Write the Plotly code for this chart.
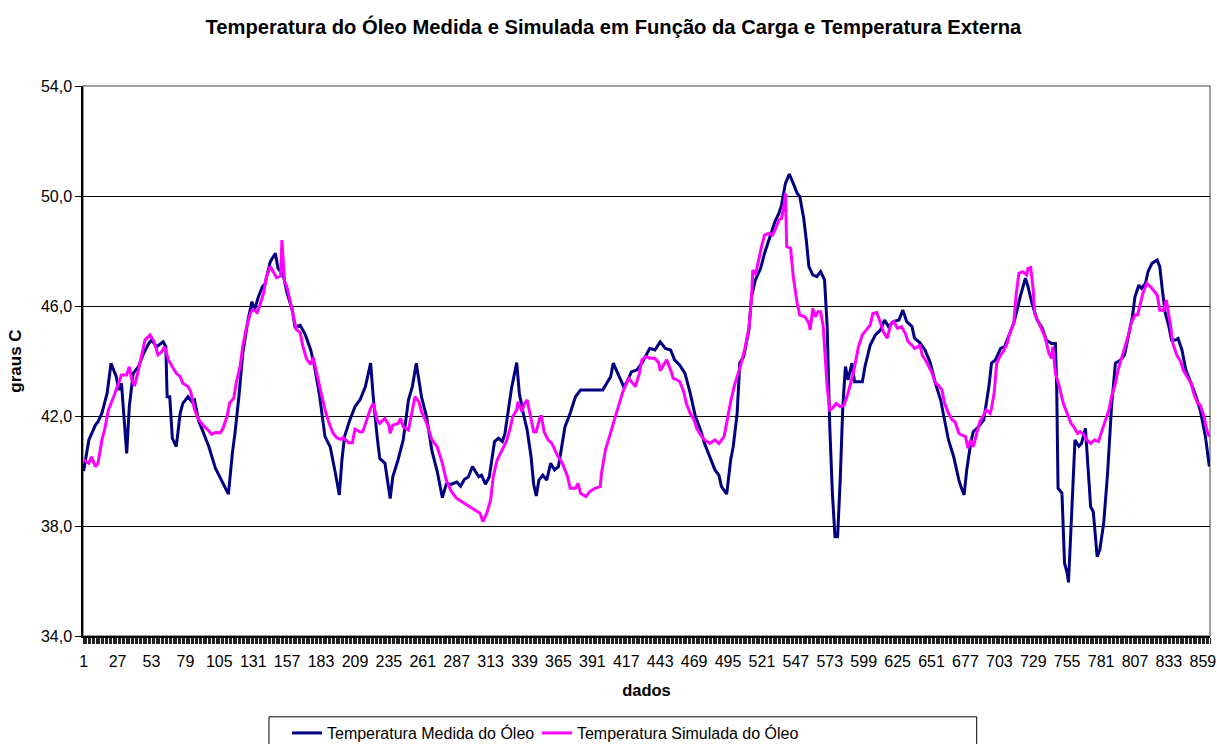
import plotly.graph_objects as go

# --- data (index "dados", temperature in °C) ---
medida_x = [1, 5, 10, 12, 15, 19, 22, 26, 28, 30, 34, 36, 39, 43, 47, 51, 53, 57, 62, 64,
            65, 67, 69, 72, 75, 77, 81, 84, 86, 89, 93, 97, 102, 107, 112, 115, 117, 120, 123, 127,
            130, 132, 135, 138, 140, 144, 148, 150, 154, 157, 161, 163, 167, 171, 175, 178, 182, 186, 190, 194,
            197, 199, 201, 205, 209, 213, 217, 221, 223, 226, 228, 232, 236, 238, 242, 246, 250, 253, 256, 260,
            264, 268, 272, 274, 276, 279, 283, 287, 290, 293, 296, 299, 302, 304, 306, 309, 312, 315, 316, 319,
            322, 324, 327, 329, 333, 335, 338, 341, 344, 346, 348, 350, 353, 356, 359, 362, 365, 368, 370, 374,
            378, 382, 387, 394, 399, 402, 405, 407, 410, 412, 415, 417, 421, 425, 429, 433, 435, 439, 443, 447,
            451, 454, 458, 462, 466, 470, 474, 477, 481, 485, 488, 490, 494, 497, 499, 502, 504, 507, 511, 513,
            516, 520, 523, 527, 531, 534, 536, 539, 542, 545, 548, 550, 553, 555, 557, 560, 563, 566, 568, 569,
            571, 573, 575, 577, 579, 581, 583, 585, 587, 590, 592, 598, 600, 604, 608, 612, 615, 618, 622, 626,
            629, 632, 636, 638, 642, 646, 650, 654, 658, 661, 664, 668, 672, 674, 676, 678, 681, 683, 687, 691,
            695, 697, 700, 704, 707, 710, 714, 716, 719, 723, 725, 728, 732, 736, 739, 743, 746, 747, 748, 751,
            753, 755, 756, 758, 761, 764, 766, 769, 771, 773, 775, 778, 780, 783, 786, 789, 792, 796, 799, 802,
            805, 807, 810, 812, 815, 817, 820, 824, 826, 828, 830, 833, 835, 838, 840, 843, 846, 849, 853, 857,
            861, 864]
medida_y = [40.0, 41.13, 41.67, 41.79, 42.1, 42.83, 43.92, 43.43, 42.95, 43.19, 40.64, 42.34, 43.55, 43.79, 44.28, 44.64, 44.76, 44.52, 44.7, 44.52,
            42.7, 42.7, 41.19, 40.89, 42.1, 42.46, 42.7, 42.52, 42.58, 41.85, 41.37, 40.88, 40.1, 39.61, 39.16, 40.64, 41.37, 42.7, 44.28, 45.49,
            46.16, 45.85, 46.34, 46.7, 46.8, 47.6, 47.92, 47.37, 47.13, 46.46, 45.85, 45.24, 45.3, 44.95, 44.41, 43.8, 42.7, 41.25, 40.88, 39.92,
            39.13, 40.4, 41.25, 41.85, 42.34, 42.6, 43.07, 43.92, 42.7, 41.25, 40.46, 40.28, 39.0, 39.79, 40.4, 41.13, 42.58, 43.07, 43.92, 42.7,
            41.94, 40.73, 40.0, 39.52, 39.03, 39.52, 39.52, 39.6, 39.45, 39.7, 39.79, 40.16, 39.92, 39.79, 39.85, 39.52, 39.79, 40.64, 41.07, 41.19,
            41.07, 41.37, 42.34, 43.0, 43.94, 42.83, 42.1, 41.49, 40.52, 39.52, 39.09, 39.67, 39.85, 39.67, 40.28, 40.04, 40.16, 41.0, 41.61, 42.1,
            42.7, 42.95, 42.95, 42.97, 42.95, 43.19, 43.43, 43.92, 43.61, 43.43, 43.07, 43.19, 43.61, 43.67, 43.92, 44.28, 44.46, 44.4, 44.7, 44.46,
            44.4, 44.04, 43.85, 43.55, 42.83, 41.98, 41.49, 41.0, 40.52, 40.04, 39.85, 39.43, 39.16, 40.4, 40.89, 42.1, 43.92, 44.16, 45.13, 46.34,
            46.95, 47.37, 47.92, 48.52, 49.07, 49.37, 49.67, 50.46, 50.8, 50.46, 50.1, 49.98, 49.19, 48.4, 47.43, 47.13, 47.07, 47.25, 47.07, 46.95,
            45.25, 41.61, 39.19, 37.61, 37.61, 39.67, 42.34, 43.8, 43.31, 43.92, 43.25, 43.25, 43.8, 44.58, 44.95, 45.13, 45.49, 45.25, 45.43, 45.49,
            45.85, 45.43, 45.25, 44.83, 44.67, 44.4, 43.95, 43.19, 42.58, 41.85, 41.13, 40.52, 39.67, 39.37, 39.13, 40.04, 41.0, 41.43, 41.61, 41.85,
            43.07, 43.92, 44.04, 44.46, 44.52, 44.88, 45.37, 45.73, 46.34, 47.01, 46.7, 46.1, 45.49, 45.19, 44.76, 44.64, 44.64, 42.95, 39.37, 39.2,
            36.64, 36.3, 35.95, 37.98, 41.13, 40.9, 41.0, 41.55, 39.92, 38.7, 38.52, 36.88, 37.13, 38.1, 39.92, 42.34, 43.92, 44.04, 44.22, 44.88,
            45.61, 46.34, 46.76, 46.64, 46.82, 47.25, 47.55, 47.67, 47.43, 46.58, 45.79, 45.25, 44.76, 44.76, 44.82, 44.4, 43.67, 43.31, 42.83, 42.22,
            41.25, 40.16]

simulada_x = [1, 5, 7, 10, 12, 15, 17, 20, 24, 28, 30, 34, 36, 38, 40, 43, 46, 48, 52, 55,
              58, 61, 63, 66, 69, 72, 75, 77, 81, 83, 86, 89, 93, 97, 99, 102, 106, 108, 111, 113,
              116, 118, 121, 123, 126, 129, 131, 134, 136, 139, 141, 144, 146, 149, 152, 153, 155, 157, 159, 162,
              164, 167, 169, 172, 175, 177, 180, 183, 186, 189, 192, 195, 198, 200, 204, 207, 209, 213, 215, 218,
              221, 223, 226, 228, 232, 235, 236, 238, 242, 244, 246, 250, 253, 255, 258, 260, 264, 268, 272, 276,
              279, 283, 287, 291, 295, 297, 300, 302, 305, 307, 310, 313, 315, 318, 320, 323, 325, 328, 330, 333,
              334, 337, 339, 341, 343, 346, 348, 351, 352, 354, 357, 360, 364, 368, 372, 374, 378, 380, 382, 386,
              389, 393, 397, 398, 401, 404, 406, 409, 411, 414, 416, 419, 421, 424, 427, 429, 432, 435, 439, 442,
              443, 445, 448, 451, 453, 456, 458, 461, 463, 466, 469, 471, 474, 477, 481, 485, 488, 492, 494, 497,
              500, 504, 508, 511, 513, 514, 516, 518, 521, 523, 526, 529, 531, 534, 536, 538, 539, 540, 543, 545,
              546, 548, 550, 554, 557, 558, 560, 562, 564, 566, 568, 569, 571, 573, 575, 578, 581, 584, 587, 591,
              595, 598, 601, 604, 606, 609, 612, 614, 617, 620, 622, 625, 628, 631, 633, 636, 638, 641, 642, 644,
              647, 649, 651, 654, 656, 659, 661, 664, 667, 669, 672, 674, 677, 679, 681, 683, 686, 688, 691, 693,
              696, 697, 699, 701, 704, 706, 709, 711, 714, 716, 718, 721, 724, 725, 727, 729, 730, 733, 736, 738,
              741, 743, 744, 746, 749, 752, 755, 758, 760, 763, 765, 768, 770, 773, 776, 779, 781, 784, 787, 789,
              792, 794, 797, 799, 802, 804, 807, 809, 811, 813, 816, 819, 821, 824, 826, 829, 831, 834, 836, 839,
              842, 844, 847, 850, 852, 855, 857, 860, 862, 864]
simulada_y = [40.4, 40.28, 40.52, 40.16, 40.28, 41.13, 41.49, 42.22, 42.7, 43.19, 43.49, 43.49, 43.79, 43.31, 43.09, 43.67, 44.28, 44.76, 44.95, 44.7,
              44.22, 44.34, 44.52, 44.04, 43.79, 43.55, 43.43, 43.19, 43.07, 42.9, 42.24, 41.88, 41.64, 41.46, 41.33, 41.4, 41.39, 41.58, 42.0, 42.48,
              42.64, 43.21, 43.82, 44.55, 45.27, 45.76, 45.88, 45.76, 46.0, 46.48, 47.03, 47.45, 47.27, 47.03, 47.09, 48.4, 46.91, 46.67, 46.24, 45.64,
              45.15, 45.03, 44.55, 44.06, 43.88, 44.13, 43.45, 42.85, 42.24, 41.76, 41.39, 41.21, 41.15, 41.21, 41.03, 41.03, 41.52, 41.42, 41.43, 41.85,
              42.28, 42.46, 41.85, 41.73, 41.91, 41.67, 41.37, 41.67, 41.73, 41.91, 41.61, 41.49, 42.22, 42.7, 42.52, 42.16, 41.73, 41.13, 40.88, 40.28,
              39.67, 39.25, 39.0, 38.88, 38.76, 38.7, 38.58, 38.52, 38.46, 38.16, 38.46, 38.95, 39.79, 40.4, 40.58, 40.88, 41.07, 41.55, 41.98, 42.22,
              42.52, 42.16, 42.46, 42.58, 42.1, 41.43, 41.43, 41.98, 41.98, 41.43, 41.13, 41.0, 40.58, 40.28, 39.79, 39.37, 39.37, 39.55, 39.19, 39.07,
              39.25, 39.37, 39.43, 39.92, 40.76, 41.25, 41.61, 42.1, 42.4, 42.83, 43.07, 43.37, 43.25, 43.07, 43.55, 44.04, 44.16, 44.1, 44.1, 43.92,
              43.65, 43.8, 44.04, 43.67, 43.37, 43.31, 43.25, 42.89, 42.46, 42.1, 41.85, 41.55, 41.31, 41.13, 41.0, 41.13, 41.0, 41.25, 41.79, 42.52,
              43.13, 43.73, 44.46, 45.19, 46.28, 47.31, 47.13, 47.61, 48.22, 48.58, 48.64, 48.58, 48.76, 49.13, 49.19, 49.67, 50.1, 48.16, 48.1, 47.07,
              46.7, 46.1, 45.67, 45.61, 45.37, 45.13, 45.91, 45.61, 45.79, 45.79, 45.25, 44.4, 43.07, 42.22, 42.28, 42.46, 42.34, 42.4, 42.83, 43.55,
              44.52, 44.95, 45.13, 45.31, 45.73, 45.76, 45.37, 45.07, 44.83, 45.37, 45.43, 45.19, 45.25, 45.0, 44.7, 44.58, 44.46, 44.52, 44.6, 44.2,
              43.98, 43.8, 43.61, 43.19, 43.13, 42.95, 42.46, 42.1, 41.85, 41.79, 41.37, 41.31, 41.25, 40.83, 41.13, 40.88, 41.37, 41.79, 42.04, 42.22,
              42.1, 42.28, 42.83, 43.92, 44.22, 44.34, 44.64, 45.0, 45.37, 46.46, 47.19, 47.25, 47.13, 47.37, 47.4, 46.58, 45.73, 45.43, 45.13, 44.88,
              44.28, 44.1, 44.52, 43.55, 43.07, 42.46, 42.1, 41.73, 41.61, 41.37, 41.43, 41.31, 41.13, 41.0, 41.13, 41.07, 41.37, 41.79, 42.22, 42.7,
              43.19, 43.67, 44.16, 44.4, 44.95, 45.37, 45.67, 45.67, 46.04, 46.46, 46.82, 46.7, 46.58, 46.4, 45.85, 45.85, 46.22, 45.37, 44.64, 44.22,
              43.98, 43.67, 43.43, 43.19, 42.83, 42.46, 42.4, 41.98, 41.49, 41.25]

x_tick_labels = list(range(1, 860, 26))
y_tick_values = [34, 38, 42, 46, 50, 54]

series_names = ["Temperatura Medida do Óleo", "Temperatura Simulada do Óleo"]
series_colors = ["#000080", "#FF00FF"]

FONT = "Liberation Sans, Arial, sans-serif"

fig = go.Figure()
fig.add_trace(go.Scatter(x=medida_x, y=medida_y, mode="lines", name=series_names[0],
                         line=dict(color=series_colors[0], width=3), legend="legend"))
fig.add_trace(go.Scatter(x=simulada_x, y=simulada_y, mode="lines", name=series_names[1],
                         line=dict(color=series_colors[1], width=3), legend="legend2"))

legend_common = dict(orientation="h", xanchor="left", y=-0.1455, yanchor="top",
                     borderwidth=0, bgcolor="rgba(0,0,0,0)",
                     font=dict(family=FONT, size=16, color="black"))

fig.update_layout(
    width=1217, height=744,
    margin=dict(l=83, r=7, t=86, b=108, autoexpand=False),
    paper_bgcolor="white", plot_bgcolor="white",
    separators=",.",
    font=dict(family=FONT, size=16, color="black"),
    title=dict(text="<b>Temperatura do Óleo Medida e Simulada em Função da Carga e Temperatura Externa</b>",
               x=0.504, xanchor="center", y=0.9637, yanchor="middle",
               font=dict(family=FONT, size=20.2, color="black")),
    showlegend=True,
    legend=dict(x=0.181, **legend_common),
    legend2=dict(x=0.4028, **legend_common),
    shapes=[
        dict(type="rect", xref="paper", yref="paper", x0=0, x1=1, y0=0, y1=1,
             line=dict(color="#808080", width=1.5), layer="below"),
        dict(type="rect", xref="paper", yref="paper", x0=0.165, x1=0.793, y0=-0.147, y1=-0.23,
             line=dict(color="black", width=1), fillcolor="white", layer="below"),
    ],
)

fig.update_xaxes(
    range=[0.5, 864.5], tickmode="array", tickvals=x_tick_labels,
    ticktext=[str(v) for v in x_tick_labels],
    ticks="", showgrid=False, zeroline=False,
    showline=True, linecolor="black", linewidth=1.5,
    tickfont=dict(family=FONT, size=16, color="black"),
    ticklabelstandoff=10, ticklabeloverflow="allow", automargin=False,
    minor=dict(ticks="outside", tick0=0.5, dtick=1, ticklen=6, tickwidth=1, tickcolor="#222", showgrid=False),
    title=dict(text="<b>dados</b>", font=dict(family=FONT, size=16.5, color="black"), standoff=15),
)
fig.update_yaxes(
    range=[34, 54], tickmode="array", tickvals=y_tick_values, tickformat=".1f",
    ticks="outside", ticklen=6, tickcolor="black", automargin=False,
    showgrid=True, gridcolor="black", gridwidth=1, zeroline=False,
    showline=True, linecolor="black", linewidth=1.5,
    tickfont=dict(family=FONT, size=16, color="black"),
    title=dict(text="<b>graus C</b>", font=dict(family=FONT, size=17, color="black"), standoff=15),
)

# remove the browser's default page margin so the 1217x744 figure fills the window exactly
fig.write_html("out.html", config={"displayModeBar": False},
               post_script="document.body.style.margin='0';document.documentElement.style.overflow='hidden';")
